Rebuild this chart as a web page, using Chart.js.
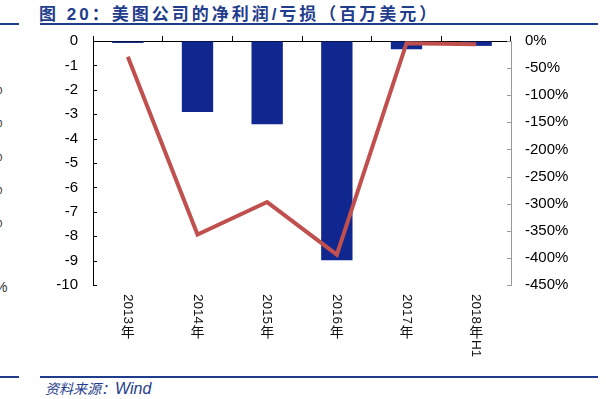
<!DOCTYPE html>
<html>
<head>
<meta charset="utf-8">
<script src="https://cdn.jsdelivr.net/npm/chart.js@4.4.1/dist/chart.umd.min.js"></script>
<style>
    html, body { margin: 0; padding: 0; background: #fff; }
    body { width: 606px; height: 399px; position: relative; overflow: hidden; font-family: "Liberation Sans", Arial, sans-serif; }
    #chart { position: absolute; left: 0; top: 0; }
    .title { position: absolute; left: 39px; top: 0px; font: bold 17px "Liberation Sans", "Noto Sans CJK SC", sans-serif; letter-spacing: 3px; color: #1f3d8c; white-space: nowrap; }
    .rule { position: absolute; height: 2px; background: #1f3d8c; }
    .source { position: absolute; left: 45px; top: 378px; color: #1f3d8c; font-style: italic; white-space: nowrap; }
    .source .cn { font: italic 14px "Noto Sans CJK SC", sans-serif; }
    .source .en { font: italic 16px "Liberation Sans", Arial, sans-serif; }
    .edge { position: absolute; font: 14px "Liberation Sans", Arial, sans-serif; color: #333; }
</style>
</head>
<body>
<div class="title">图 20：美图公司的净利润/亏损（百万美元）</div>
<div class="rule" style="left:0;top:23px;width:19px"></div>
<div class="rule" style="left:40px;top:23px;width:558px"></div>
<div class="rule" style="left:0;top:376px;width:19px"></div>
<div class="rule" style="left:40px;top:376px;width:558px"></div>
<div class="source"><span class="cn">资料来源：</span><span class="en">Wind</span></div>
<div class="edge" style="left:-10px;top:81px">%</div>
<div class="edge" style="left:-10px;top:114px">%</div>
<div class="edge" style="left:-10px;top:148px">%</div>
<div class="edge" style="left:-10px;top:181px">%</div>
<div class="edge" style="left:-10px;top:214px">%</div>
<div class="edge" style="left:-5px;top:279px">%</div>
<canvas id="chart" width="606" height="399"></canvas>
<script>
// ---- data ----
const categories = ['2013年', '2014年', '2015年', '2016年', '2017年', '2018年H1'];
const netProfit = [-0.08, -2.91, -3.41, -8.99, -0.34, -0.2];      // 百万美元, left axis
const netMargin = [-29, -357, -297, -394, -4, -6];                // %, right axis
const leftTicks = { min: -10, max: 0, step: 1 };
const rightTicks = { min: -450, max: 0, step: 50 };

const BLUE = '#0f278f';
const RED = '#c0504d';

// inward tick marks on both value axes
const innerTicks = {
    id: 'innerTicks',
    afterDraw(chart) {
        const { ctx, scales } = chart;
        ctx.save();
        ctx.lineWidth = 1;
        ctx.strokeStyle = '#000';
        scales.y.ticks.forEach(t => {
            const y = Math.round(scales.y.getPixelForValue(t.value)) + 0.5;
            ctx.beginPath(); ctx.moveTo(scales.y.right, y); ctx.lineTo(scales.y.right + 4, y); ctx.stroke();
        });
        ctx.strokeStyle = '#999';
        scales.y1.ticks.forEach(t => {
            const y = Math.round(scales.y1.getPixelForValue(t.value)) + 0.5;
            ctx.beginPath(); ctx.moveTo(scales.y1.left - 4, y); ctx.lineTo(scales.y1.left, y); ctx.stroke();
        });
        ctx.restore();
    }
};

// category labels: digits turned clockwise, CJK glyphs kept upright
const verticalLabels = {
    id: 'verticalLabels',
    afterDraw(chart) {
        const { ctx } = chart;
        const xs = chart.scales.x;
        const top = chart.chartArea.bottom + 9;
        ctx.save();
        ctx.fillStyle = '#111';
        chart.data.labels.forEach((label, i) => {
            const cx = xs.getPixelForValue(i);
            let cy = top;
            const parts = label.match(/[\u3000-\u9fff\uff00-\uffef]|[^\u3000-\u9fff\uff00-\uffef]+/g);
            parts.forEach(p => {
                if (/[\u3000-\u9fff\uff00-\uffef]/.test(p)) {
                    ctx.font = '14px "Noto Sans CJK SC", sans-serif';
                    ctx.textAlign = 'center';
                    ctx.textBaseline = 'middle';
                    ctx.fillText(p, cx, cy + 7);
                    cy += 15;
                } else {
                    ctx.font = '13.5px "Liberation Sans", Arial, sans-serif';
                    const w = ctx.measureText(p).width;
                    ctx.save();
                    ctx.translate(cx, cy);
                    ctx.rotate(Math.PI / 2);
                    ctx.textAlign = 'left';
                    ctx.textBaseline = 'middle';
                    ctx.fillText(p, 0, 0);
                    ctx.restore();
                    cy += w + 1;
                }
            });
        });
        ctx.restore();
    }
};

new Chart(document.getElementById('chart'), {
    type: 'bar',
    data: {
        labels: categories,
        datasets: [
            {
                type: 'line', label: '净利率', data: netMargin, yAxisID: 'y1',
                borderColor: RED, borderWidth: 4, pointRadius: 0, tension: 0, order: 0
            },
            {
                label: '净利润', data: netProfit, yAxisID: 'y',
                backgroundColor: BLUE, categoryPercentage: 1, barPercentage: 0.45, order: 1
            }
        ]
    },
    options: {
        responsive: false, animation: false, devicePixelRatio: 1,
        layout: { padding: { top: 0, bottom: 114, left: 0, right: 0 } },
        plugins: { legend: { display: false }, tooltip: { enabled: false } },
        scales: {
            x: {
                position: 'top', offset: true,
                ticks: { display: false },
                grid: { offset: true, drawOnChartArea: false, drawTicks: true, tickLength: 5, color: '#000' },
                border: { color: '#000', width: 1 },
                afterFit: s => { s.height = 41; }
            },
            y: {
                position: 'left', min: leftTicks.min, max: leftTicks.max,
                ticks: { stepSize: leftTicks.step, padding: 15, color: '#000', font: { family: 'Liberation Sans', size: 15 } },
                grid: { drawOnChartArea: false, drawTicks: false },
                border: { color: '#000', width: 1 },
                afterFit: s => { s.width = 93; }
            },
            y1: {
                position: 'right', min: rightTicks.min, max: rightTicks.max,
                ticks: { stepSize: rightTicks.step, padding: 14, color: '#000', font: { family: 'Liberation Sans', size: 15 }, callback: v => v + '%' },
                grid: { drawOnChartArea: false, drawTicks: false },
                border: { color: '#999', width: 1 },
                afterFit: s => { s.width = 95; }
            }
        }
    },
    plugins: [innerTicks, verticalLabels]
});
</script>
</body>
</html>
